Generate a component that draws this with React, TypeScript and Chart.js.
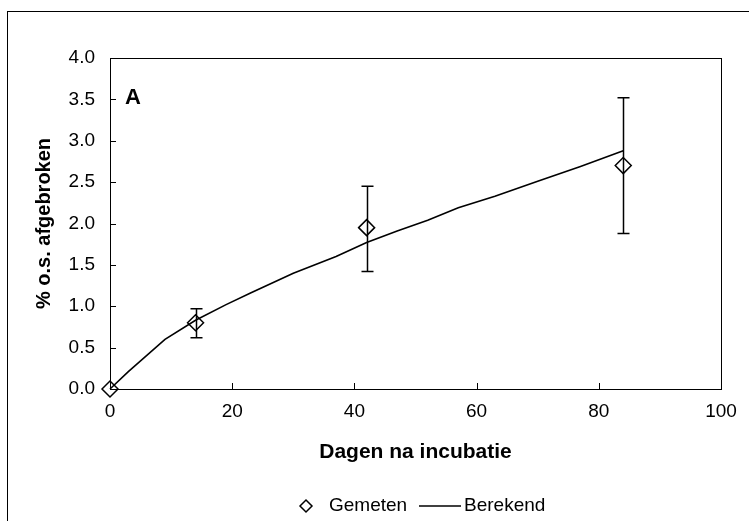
import React, { useEffect, useRef } from "react";
import { Chart, registerables } from "chart.js";

Chart.register(...registerables);

// ---- data ----
const measuredDays = [0, 14, 42, 84];
const measuredValues = [0, 0.8, 1.95, 2.7];
const errLow = [0, 0.62, 1.42, 1.88];
const errHigh = [0, 0.97, 2.45, 3.52];

const calcDays = [0, 3, 9, 14, 19, 23, 30, 37, 42, 47, 52, 57, 63, 70, 77, 84];
const calcValues = [0, 0.21, 0.6, 0.83, 1.02, 1.16, 1.4, 1.6, 1.77, 1.91, 2.04, 2.19, 2.33, 2.51, 2.69, 2.88];

const xTickValues = [0, 20, 40, 60, 80, 100];
const yTickValues = [0, 0.5, 1, 1.5, 2, 2.5, 3, 3.5, 4];

const seriesLabels = ["Gemeten", "Berekend"];
const xTitle = "Dagen na incubatie";
const yTitle = "% o.s. afgebroken";
const panelLabel = "A";

const FONT = "'Liberation Sans', Arial, sans-serif";

const decorPlugin = {
  id: "decor",
  beforeDatasetsDraw(chart: any) {
    const { ctx, chartArea, scales } = chart;
    const xs = scales.x;
    const ys = scales.y;
    ctx.save();
    // outer frame
    ctx.strokeStyle = "#000";
    ctx.lineWidth = 1;
    ctx.strokeRect(7.5, 11.5, 900, 700);
    // plot border
    ctx.strokeRect(
      Math.round(chartArea.left) + 0.5,
      Math.round(chartArea.top) + 0.5,
      Math.round(chartArea.right - chartArea.left),
      Math.round(chartArea.bottom - chartArea.top)
    );
    // inside ticks
    ctx.beginPath();
    yTickValues.forEach((v) => {
      const py = Math.round(ys.getPixelForValue(v)) + 0.5;
      ctx.moveTo(chartArea.left, py);
      ctx.lineTo(chartArea.left + 6, py);
    });
    xTickValues.forEach((v) => {
      const px = Math.round(xs.getPixelForValue(v)) + 0.5;
      ctx.moveTo(px, chartArea.bottom);
      ctx.lineTo(px, chartArea.bottom - 6);
    });
    ctx.stroke();
    // error bars
    ctx.lineWidth = 1.5;
    ctx.beginPath();
    measuredDays.forEach((d, i) => {
      if (errHigh[i] === errLow[i]) return;
      const px = Math.round(xs.getPixelForValue(d)) + 0.5;
      const pLo = ys.getPixelForValue(errLow[i]);
      const pHi = ys.getPixelForValue(errHigh[i]);
      ctx.moveTo(px, pLo);
      ctx.lineTo(px, pHi);
      ctx.moveTo(px - 6, pLo);
      ctx.lineTo(px + 6, pLo);
      ctx.moveTo(px - 6, pHi);
      ctx.lineTo(px + 6, pHi);
    });
    ctx.stroke();
    ctx.restore();
  },
  afterDraw(chart: any) {
    const { ctx, chartArea } = chart;
    ctx.save();
    // panel label
    ctx.fillStyle = "#000";
    ctx.font = `bold 22px ${FONT}`;
    ctx.textBaseline = "middle";
    ctx.textAlign = "left";
    ctx.fillText(panelLabel, chartArea.left + 15, 98);
    // legend
    const ly = 506;
    ctx.font = `19px ${FONT}`;
    ctx.strokeStyle = "#000";
    ctx.lineWidth = 1.5;
    const dx = 306;
    ctx.beginPath();
    ctx.moveTo(dx - 6, ly);
    ctx.lineTo(dx, ly - 6);
    ctx.lineTo(dx + 6, ly);
    ctx.lineTo(dx, ly + 6);
    ctx.closePath();
    ctx.stroke();
    ctx.fillText(seriesLabels[0], 329, ly);
    ctx.beginPath();
    ctx.moveTo(419, ly);
    ctx.lineTo(461, ly);
    ctx.stroke();
    ctx.fillText(seriesLabels[1], 464, ly);
    ctx.restore();
  },
};

export default function App() {
  const ref = useRef<HTMLCanvasElement | null>(null);
  useEffect(() => {
    if (!ref.current) return;
    const chart = new Chart(ref.current, {
      type: "scatter",
      data: {
        datasets: [
          {
            label: seriesLabels[1],
            data: calcDays.map((d, i) => ({ x: d, y: calcValues[i] })),
            showLine: true,
            borderColor: "#000",
            borderWidth: 1.6,
            pointRadius: 0,
            fill: false,
            tension: 0,
          },
          {
            label: seriesLabels[0],
            data: measuredDays.map((d, i) => ({ x: d, y: measuredValues[i] })),
            showLine: false,
            pointStyle: "rectRot",
            pointRadius: 8,
            pointHoverRadius: 8,
            borderColor: "#000",
            backgroundColor: "rgba(0,0,0,0)",
            borderWidth: 1.5,
          },
        ],
      },
      options: {
        responsive: false,
        animation: false,
        clip: false as any,
        events: [],
        layout: { padding: { left: 32, top: 58, right: 28, bottom: 56 } },
        plugins: { legend: { display: false }, tooltip: { enabled: false } },
        scales: {
          x: {
            type: "linear",
            min: 0,
            max: 100,
            afterBuildTicks: (s: any) => {
              s.ticks = xTickValues.map((v) => ({ value: v }));
            },
            afterFit: (s: any) => {
              s.height = 76;
            },
            ticks: {
              color: "#000",
              font: { family: FONT, size: 19 },
              padding: 11,
              maxRotation: 0,
            },
            grid: { display: false, drawTicks: false },
            border: { display: false },
            title: {
              display: true,
              text: xTitle,
              color: "#000",
              font: { family: FONT, size: 21, weight: "bold" },
              padding: 0,
            },
          },
          y: {
            type: "linear",
            min: 0,
            max: 4,
            afterBuildTicks: (s: any) => {
              s.ticks = yTickValues.map((v) => ({ value: v }));
            },
            afterFit: (s: any) => {
              s.width = 78;
            },
            ticks: {
              color: "#000",
              font: { family: FONT, size: 19 },
              padding: 15,
              callback: (v: any) => Number(v).toFixed(1),
            },
            grid: { display: false, drawTicks: false },
            border: { display: false },
            title: {
              display: true,
              text: yTitle,
              color: "#000",
              font: { family: FONT, size: 20, weight: "bold" },
              padding: 0,
            },
          },
        },
      },
      plugins: [decorPlugin],
    });
    return () => chart.destroy();
  }, []);
  return (
    <div style={{ position: "fixed", left: 0, top: 0, width: 749, height: 521, background: "#fff" }}>
      <canvas ref={ref} width={749} height={521} style={{ display: "block", width: 749, height: 521 }} />
    </div>
  );
}
